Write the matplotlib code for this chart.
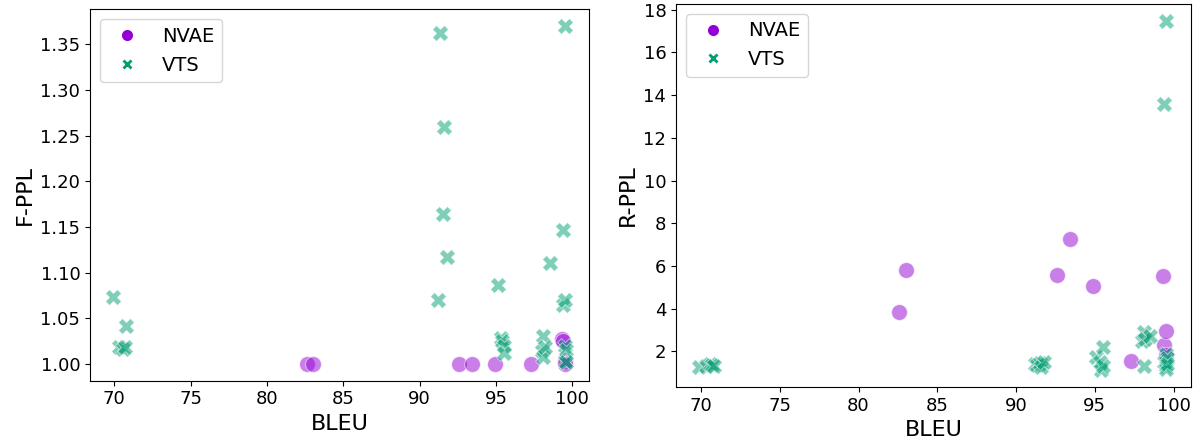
import numpy as np
import matplotlib
matplotlib.use("Agg")
import matplotlib.pyplot as plt
from matplotlib.lines import Line2D

# NVAE runs
bleu_nvae = [82.6, 83.0, 92.6, 93.4, 94.9, 97.3, 99.3, 99.4, 99.5, 99.5]
fppl_nvae = [1.000, 1.000, 1.000, 1.000, 1.000, 1.000, 1.027, 1.025, 1.003, 1.000]
rppl_nvae = [3.85, 5.83, 5.57, 7.27, 5.08, 1.55, 5.52, 2.28, 2.97, 1.85]

# VTS runs
bleu_vts = [69.9, 70.3, 70.6, 70.7, 70.8,
            91.2, 91.3, 91.5, 91.6, 91.8,
            95.1, 95.3, 95.4, 95.5, 95.5,
            98.0, 98.1, 98.1, 98.2, 98.5,
            99.4, 99.4, 99.5, 99.5, 99.5, 99.5, 99.6, 99.6]
fppl_vts = [1.073, 1.018, 1.016, 1.018, 1.041,
            1.070, 1.362, 1.164, 1.260, 1.117,
            1.086, 1.028, 1.025, 1.019, 1.012,
            1.014, 1.031, 1.008, 1.018, 1.111,
            1.147, 1.064, 1.370, 1.070, 1.020, 1.003, 1.015, 1.002]
rppl_vts = [1.25, 1.32, 1.40, 1.38, 1.30,
            1.40, 1.35, 1.45, 1.28, 1.50,
            1.75, 1.50, 1.15, 1.30, 2.20,
            2.50, 2.90, 1.30, 2.60, 2.70,
            13.6, 1.50, 17.45, 1.90, 1.30, 1.20, 1.70, 1.40]

c_nvae = "#9400D3"
c_vts = "#009E73"

fig = plt.figure(figsize=(12.02, 4.43), dpi=100)
ax1 = fig.add_axes([0.0749, 0.1406, 0.4151, 0.8384])
ax2 = fig.add_axes([0.5624, 0.1264, 0.4282, 0.8646])

def draw(ax, y_nvae, y_vts, ylabel):
  ax.scatter(bleu_nvae, y_nvae, s=130, marker="o", color=c_nvae, alpha=0.5,
             edgecolors="white", linewidths=0.75)
  ax.scatter(bleu_vts, y_vts, s=130, marker="X", color=c_vts, alpha=0.5,
             edgecolors="white", linewidths=0.75)
  ax.set_xlabel("BLEU", fontsize=16)
  ax.set_ylabel(ylabel, fontsize=16)
  ax.tick_params(labelsize=13)
  handles = [
    Line2D([], [], marker="o", ls="", color=c_nvae, markeredgecolor="white", markersize=9, label="NVAE"),
    Line2D([], [], marker="X", ls="", color=c_vts, markeredgecolor="white", markersize=9, label="VTS"),
  ]
  ax.legend(handles=handles, loc="upper left", fontsize=14)

draw(ax1, fppl_nvae, fppl_vts, "F-PPL")
draw(ax2, rppl_nvae, rppl_vts, "R-PPL")
ax1.set_yticks([1.00, 1.05, 1.10, 1.15, 1.20, 1.25, 1.30, 1.35])
ax2.set_yticks([2, 4, 6, 8, 10, 12, 14, 16, 18])

fig.savefig("out.png", dpi=100)
